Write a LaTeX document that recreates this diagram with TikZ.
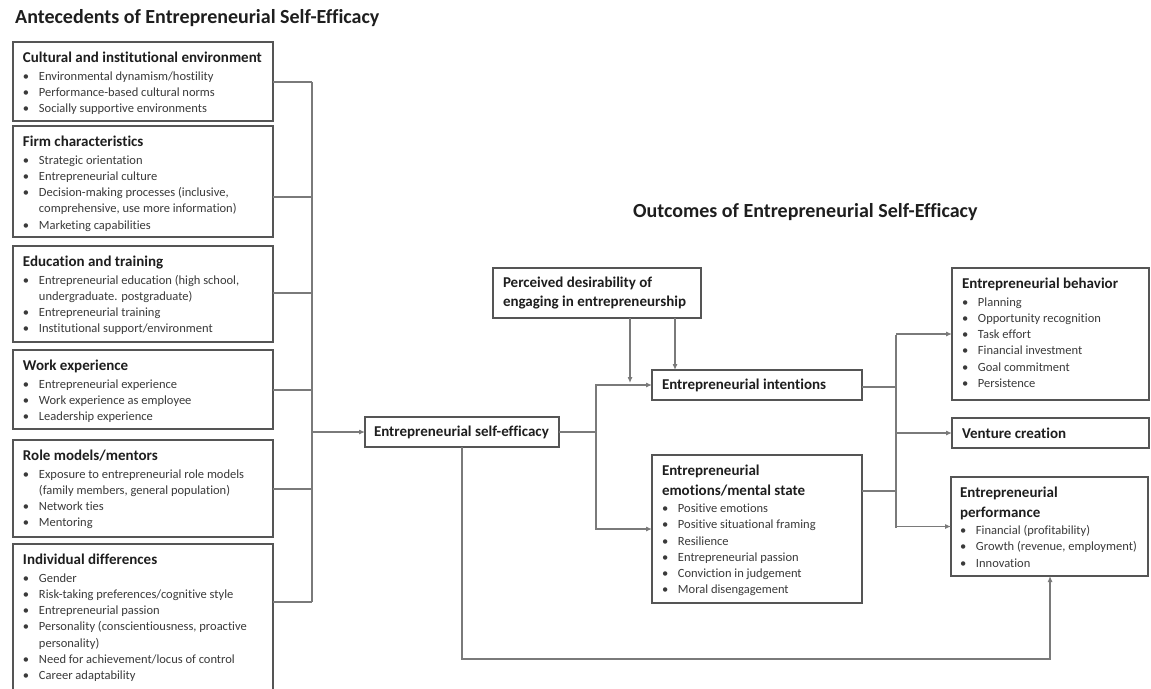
\documentclass[tikz,border=0pt]{standalone}
\usepackage{fontspec}
\setmainfont{Carlito}[Ligatures=CommonOff]
\usetikzlibrary{arrows.meta}
\definecolor{boxc}{HTML}{555555}
\definecolor{linec}{HTML}{7A7A7A}
\definecolor{txtc}{HTML}{3A3A3A}
\definecolor{hdc}{HTML}{1E1E1E}
\newcommand\bxhead[1]{{\fontsize{15}{19.5}\selectfont\bfseries\color{hdc}#1\par}\vspace{1.5pt}}
\newcommand\bxitem[1]{{\fontsize{12.5}{16.2}\selectfont\color{txtc}\noindent\hangindent=16pt\hangafter=1\makebox[16pt][l]{\textbullet}#1\par}}
\newcommand\bxc[4]{\parbox[c][#2][#3]{#1}{\raggedright #4}}
\tikzset{
  bx/.style={draw=boxc, line width=1.2pt, fill=white, inner xsep=10pt, inner ysep=0pt, anchor=north west, outer sep=0pt},
  conn/.style={draw=linec, line width=1.1pt},
  arr/.style={conn, -{Latex[length=6pt,width=5pt]}},
  ttl/.style={anchor=west, font=\fontsize{20}{24}\selectfont\bfseries, text=hdc, inner sep=0pt},
  one/.style={font=\fontsize{15}{19.5}\selectfont\bfseries, text=hdc}
}
\begin{document}
\begin{tikzpicture}[x=1pt,y=-1pt]
\useasboundingbox[fill=white] (0,0) rectangle (1151,688);

% titles
\node[ttl] (t1) at (15,18) {Antecedents of Entrepreneurial Self-Efficacy};
\node[ttl] (t2) at (633,212) {Outcomes of Entrepreneurial Self-Efficacy};

% left boxes (x 13..273)
\node[bx] (c1) at (13,42) {\bxc{240pt}{79pt}{t}{\vspace*{10pt}\bxhead{Cultural and institutional environment}
\bxitem{Environmental dynamism/hostility}
\bxitem{Performance-based cultural norms}
\bxitem{Socially supportive environments}}};

\node[bx] (c2) at (13,126) {\bxc{240pt}{111pt}{t}{\vspace*{10pt}\bxhead{Firm characteristics}
\bxitem{Strategic orientation}
\bxitem{Entrepreneurial culture}
\bxitem{Decision-making processes (inclusive,\newline comprehensive, use more information)}
\bxitem{Marketing capabilities}}};

\node[bx] (c3) at (13,246) {\bxc{240pt}{96pt}{t}{\vspace*{10pt}\bxhead{Education and training}
\bxitem{Entrepreneurial education (high school,\newline undergraduate. postgraduate)}
\bxitem{Entrepreneurial training}
\bxitem{Institutional support/environment}}};

\node[bx] (c4) at (13,350) {\bxc{240pt}{79pt}{t}{\vspace*{10pt}\bxhead{Work experience}
\bxitem{Entrepreneurial experience}
\bxitem{Work experience as employee}
\bxitem{Leadership experience}}};

\node[bx] (c5) at (13,440) {\bxc{240pt}{97pt}{t}{\vspace*{10pt}\bxhead{Role models/mentors}
\bxitem{Exposure to entrepreneurial role models\newline (family members, general population)}
\bxitem{Network ties}
\bxitem{Mentoring}}};

\node[bx] (c6) at (13,544) {\bxc{240pt}{150pt}{t}{\vspace*{10pt}\bxhead{Individual differences}
\bxitem{Gender}
\bxitem{Risk-taking preferences/cognitive style}
\bxitem{Entrepreneurial passion}
\bxitem{Personality (conscientiousness, proactive\newline personality)}
\bxitem{Need for achievement/locus of control}
\bxitem{Career adaptability}}};

% centre and right boxes
\node[bx, one, inner xsep=9pt] (ese) at (365,417) {\bxc{176pt}{30pt}{c}{Entrepreneurial self-efficacy}};
\node[bx, one] (pd) at (493,268) {\bxc{188pt}{50pt}{c}{Perceived desirability of\\engaging in entrepreneurship}};
\node[bx, one] (int) at (652,370) {\bxc{190pt}{30pt}{c}{Entrepreneurial intentions}};
\node[bx] (emo) at (652,455) {\bxc{190pt}{148pt}{t}{\vspace*{10pt}\bxhead{Entrepreneurial\\emotions/mental state}
\bxitem{Positive emotions}
\bxitem{Positive situational framing}
\bxitem{Resilience}
\bxitem{Entrepreneurial passion}
\bxitem{Conviction in judgement}
\bxitem{Moral disengagement}}};
\node[bx] (beh) at (952,268) {\bxc{177pt}{132pt}{t}{\vspace*{10pt}\bxhead{Entrepreneurial behavior}
\bxitem{Planning}
\bxitem{Opportunity recognition}
\bxitem{Task effort}
\bxitem{Financial investment}
\bxitem{Goal commitment}
\bxitem{Persistence}}};
\node[bx, one] (ven) at (952,418) {\bxc{177pt}{30pt}{c}{Venture creation}};
\node[bx, inner xsep=9pt] (per) at (951,477) {\bxc{179pt}{99pt}{t}{\vspace*{10pt}\bxhead{Entrepreneurial\\performance}
\bxitem{Financial (profitability)}
\bxitem{Growth (revenue, employment)}
\bxitem{Innovation}}};

% left bus
\coordinate (b1) at (312,82);
\coordinate (b2) at (312,197);
\coordinate (b3) at (312,293);
\coordinate (b4) at (312,390);
\coordinate (b5) at (312,489);
\coordinate (b6) at (312,602);
\draw[conn] (c1.east |- b1) -- (b1);
\draw[conn] (c2.east |- b2) -- (b2);
\draw[conn] (c3.east |- b3) -- (b3);
\draw[conn] (c4.east |- b4) -- (b4);
\draw[conn] (c5.east |- b5) -- (b5);
\draw[conn] (c6.east |- b6) -- (b6);
\draw[conn] (b1) -- (b6);
\draw[arr] (b1 |- ese.west) -- (ese.west);

% ESE to intentions / emotions
\coordinate (m1) at (596,432);
\draw[conn] (ese.east) -- (m1);
\draw[arr] (m1) |- (int.west);
\draw[arr] (m1) |- (emo.west);

% perceived desirability
\coordinate (pd1) at (630,383);
\draw[arr] (pd.south -| pd1) -- (pd1);
\draw[arr] (pd.south -| 675,0) -- (int.north -| 675,0);

% ESE to performance
\coordinate (lo) at (462,659);
\draw[arr] (ese.south) -- (lo) -| (per.south -| 1050,0);

% right bus
\coordinate (r1) at (896,387);
\coordinate (r2) at (896,491);
\draw[conn] (int.east |- r1) -- (r1);
\draw[conn] (emo.east |- r2) -- (r2);
\draw[conn] (896,335) -- (896,528);
\draw[arr] (beh.west -| r1) -- (beh.west);
\draw[arr] (ven.west -| r1) -- (ven.west);
\draw[arr] (per.west -| r1) -- (per.west);
\end{tikzpicture}
\end{document}
